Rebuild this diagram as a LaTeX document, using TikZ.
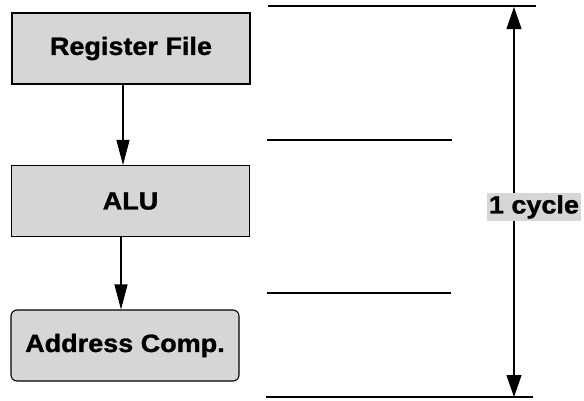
\documentclass[tikz,border=0pt]{standalone}
\usepackage{fontspec}
\newfontfamily\stagefont{Liberation Sans}[FakeStretch=1.08, BoldFeatures={FakeBold=1.2}]
\usetikzlibrary{arrows.meta,calc}

\tikzset{
    stage/.style={draw, line width=1.1pt, fill=black!16, minimum height=71pt,
        font=\stagefont\bfseries\fontsize{25}{28}\selectfont},
    flow/.style={line width=1.1pt, -{Triangle[length=25pt,width=13pt]}},
    edgeline/.style={line width=1.1pt}
}

\begin{document}
\begin{tikzpicture}[x=1pt, y=-1pt]
    \useasboundingbox (0,0) rectangle (584,400);
    \node[stage, minimum width=238pt] (reg) at (131, 48.5) {Register File};
    \node[stage, minimum width=238pt] (alu) at (130.5, 201) {ALU};
    \node[stage, minimum width=228pt, rounded corners=6pt] (addr) at (125, 345.5) {Address Comp.};
    \draw[flow] ([xshift=-8pt]reg.south) -- ([xshift=-8pt]reg.south |- alu.north);
    \draw[flow] ([xshift=-9.5pt]alu.south) -- ([xshift=-9.5pt]alu.south |- addr.north);
    % clock edges
    \coordinate (t0) at (268, 6);
    \coordinate (t1) at (267, 140);
    \coordinate (t2) at (267, 293);
    \coordinate (t3) at (266, 397);
    \draw[edgeline] (t0) -- ++(268, 0);
    \draw[edgeline] (t1) -- ++(185, 0);
    \draw[edgeline] (t2) -- ++(184, 0);
    \draw[edgeline] (t3) -- ++(267, 0);
    \coordinate (top) at (514, 7);
    \coordinate (bot) at (514, 397);
    \draw[line width=1.1pt, {Triangle[length=22pt,width=15pt]}-{Triangle[length=22pt,width=15pt]}] (top) -- (bot);
    \node[fill=black!16, inner sep=2pt, font=\stagefont\bfseries\fontsize{25}{28}\selectfont] (cyc) at (534, 207) {1 cycle};
\end{tikzpicture}
\end{document}
